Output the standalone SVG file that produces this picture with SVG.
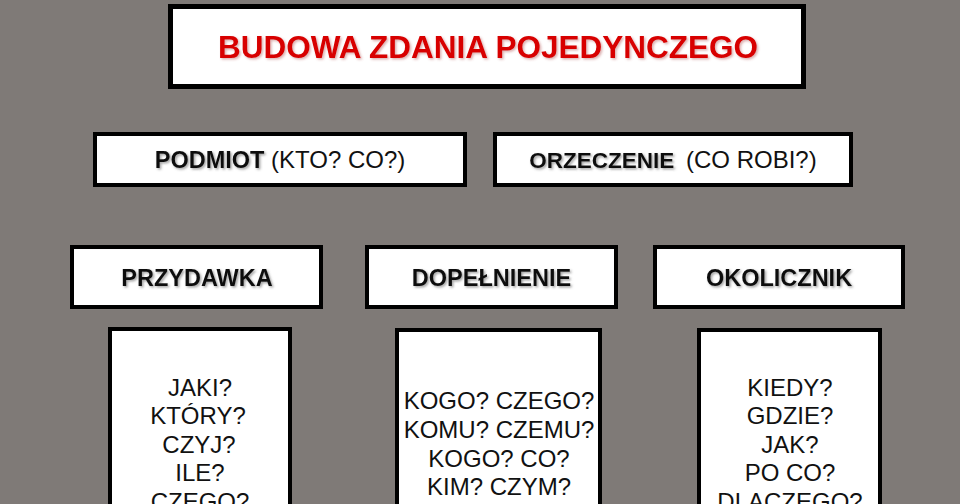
<svg xmlns="http://www.w3.org/2000/svg" width="960" height="504" viewBox="0 0 960 504">
  <defs>
    <filter id="sh" x="-10%" y="-30%" width="120%" height="160%">
      <feDropShadow dx="1.5" dy="1.5" stdDeviation="1.2" flood-color="#555" flood-opacity="0.55"/>
    </filter>
    <filter id="shr" x="-10%" y="-30%" width="120%" height="160%">
      <feDropShadow dx="1.5" dy="1.5" stdDeviation="1.2" flood-color="#b05050" flood-opacity="0.45"/>
    </filter>
  </defs>
  <style>
    .box { fill: #ffffff; stroke: #000000; stroke-width: 4; }
    .title-box { fill: #ffffff; stroke: #000000; stroke-width: 5; }
    .title { font-family: "Liberation Sans", Arial, sans-serif; font-weight: bold; font-size: 31.5px; fill: #d80000; text-anchor: middle; }
    .lbl { font-family: "Liberation Sans", Arial, sans-serif; font-weight: bold; font-size: 23.5px; fill: #111111; text-anchor: middle; }
    .reg { font-family: "Liberation Sans", Arial, sans-serif; font-weight: normal; font-size: 24px; fill: #111111; }
    .q { font-family: "Liberation Sans", Arial, sans-serif; font-size: 24px; fill: #111111; text-anchor: middle; }
  </style>
  <rect x="0" y="0" width="960" height="504" fill="#7f7a77"/>

  <g id="title">
    <rect class="title-box" x="170.5" y="6.5" width="633" height="80"/>
    <text class="title" x="488" y="58" filter="url(#shr)">BUDOWA ZDANIA POJEDYNCZEGO</text>
  </g>

  <g id="podmiot">
    <rect class="box" x="95" y="134" width="370" height="51"/>
    <text class="lbl" x="280" y="168"><tspan filter="url(#sh)">PODMIOT</tspan><tspan class="reg"> (KTO? CO?)</tspan></text>
  </g>

  <g id="orzeczenie">
    <rect class="box" x="495" y="134" width="356" height="51"/>
    <text class="lbl" x="673" y="168"><tspan style="font-size:22.5px" filter="url(#sh)">ORZECZENIE</tspan><tspan class="reg" dx="5"> (CO ROBI?)</tspan></text>
  </g>

  <g id="przydawka">
    <rect class="box" x="72" y="247" width="249" height="60"/>
    <text class="lbl" x="197" y="286" filter="url(#sh)">PRZYDAWKA</text>
  </g>

  <g id="dopelnienie">
    <rect class="box" x="367" y="247" width="249" height="60"/>
    <text class="lbl" x="491.5" y="286" filter="url(#sh)">DOPEŁNIENIE</text>
  </g>

  <g id="okolicznik">
    <rect class="box" x="655" y="247" width="248" height="60"/>
    <text class="lbl" x="779" y="286" filter="url(#sh)">OKOLICZNIK</text>
  </g>

  <g id="przydawka-pytania">
    <rect class="box" x="110" y="329" width="180" height="200"/>
    <text class="q" x="200" y="396">JAKI?</text>
    <text class="q" x="198" y="424">KTÓRY?</text>
    <text class="q" x="199" y="453">CZYJ?</text>
    <text class="q" x="200" y="481">ILE?</text>
    <text class="q" x="200" y="510">CZEGO?</text>
  </g>

  <g id="dopelnienie-pytania">
    <rect class="box" x="397" y="330" width="203" height="200"/>
    <text class="q" x="499" y="409">KOGO? CZEGO?</text>
    <text class="q" x="499" y="438">KOMU? CZEMU?</text>
    <text class="q" x="499" y="467">KOGO? CO?</text>
    <text class="q" x="499" y="495">KIM? CZYM?</text>
  </g>

  <g id="okolicznik-pytania">
    <rect class="box" x="699" y="330" width="181" height="200"/>
    <text class="q" x="790" y="396">KIEDY?</text>
    <text class="q" x="790" y="424">GDZIE?</text>
    <text class="q" x="790" y="453">JAK?</text>
    <text class="q" x="790" y="481">PO CO?</text>
    <text class="q" x="790" y="510">DLACZEGO?</text>
  </g>

  <g id="connectors"></g>
</svg>
